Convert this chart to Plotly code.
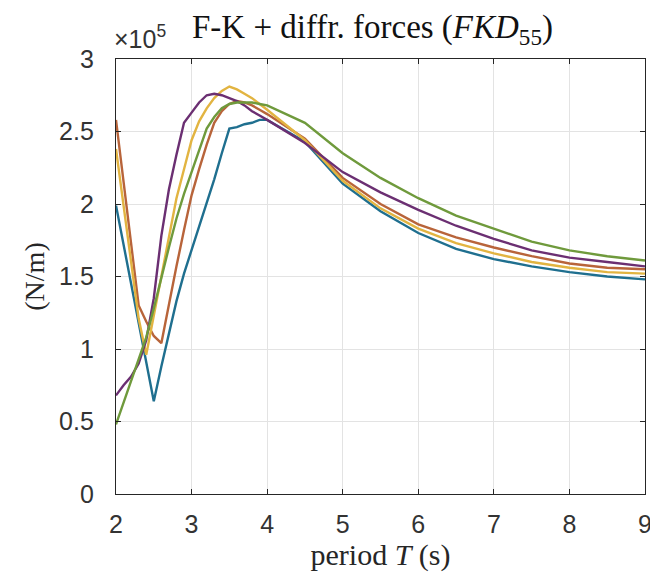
import plotly.graph_objects as go

# period T (s)
period = [2.0, 2.1, 2.2, 2.3, 2.4, 2.5, 2.6, 2.7, 2.8, 2.9, 3.0,
          3.1, 3.2, 3.3, 3.4, 3.5, 3.6, 3.7, 3.8, 3.9, 4.0,
          4.5, 5.0, 5.5, 6.0, 6.5, 7.0, 7.5, 8.0, 8.5, 9.0]

# FKD55 values (x 1e5 N/m)
s_blue = [1.99, 1.72, 1.45, 1.18, 0.92, 0.64, 0.88, 1.11, 1.33, 1.52, 1.68,
          1.84, 2.00, 2.17, 2.35, 2.52, 2.53, 2.55, 2.56, 2.58, 2.58,
          2.43, 2.14, 1.95, 1.80, 1.69, 1.62, 1.57, 1.53, 1.50, 1.48]
s_orange = [2.58, 2.14, 1.71, 1.30, 1.19, 1.09, 1.04, 1.31, 1.57, 1.82, 2.06,
            2.24, 2.41, 2.56, 2.64, 2.69, 2.71, 2.70, 2.68, 2.65, 2.62,
            2.45, 2.18, 2.00, 1.86, 1.77, 1.70, 1.64, 1.59, 1.56, 1.55]
s_yellow = [2.38, 1.99, 1.60, 1.21, 0.96, 1.23, 1.50, 1.78, 2.04, 2.24, 2.44,
            2.57, 2.66, 2.73, 2.78, 2.81, 2.79, 2.76, 2.73, 2.69, 2.65,
            2.44, 2.16, 1.97, 1.83, 1.73, 1.66, 1.60, 1.56, 1.53, 1.52]
s_purple = [0.68, 0.75, 0.81, 0.90, 1.06, 1.35, 1.78, 2.10, 2.34, 2.56, 2.63,
            2.70, 2.75, 2.76, 2.75, 2.73, 2.71, 2.68, 2.64, 2.61, 2.58,
            2.42, 2.22, 2.08, 1.96, 1.85, 1.76, 1.68, 1.63, 1.60, 1.57]
s_green = [0.48, 0.63, 0.78, 0.92, 1.08, 1.28, 1.50, 1.70, 1.90, 2.07, 2.22,
           2.37, 2.52, 2.60, 2.66, 2.69, 2.70, 2.70, 2.70, 2.69, 2.68,
           2.56, 2.35, 2.18, 2.04, 1.92, 1.83, 1.74, 1.68, 1.64, 1.61]

series = [s_blue, s_orange, s_yellow, s_purple, s_green]
colors = ["#1f6f8f", "#b8643a", "#e2b441", "#6b2f72", "#6f9a3c"]

x_ticks = [2, 3, 4, 5, 6, 7, 8, 9]
y_ticks = [0, 0.5, 1, 1.5, 2, 2.5, 3]
y_tick_text = ["0", "0.5", "1", "1.5", "2", "2.5", "3"]

SERIF = "Liberation Serif, Times New Roman, serif"
SANS = "Liberation Sans, Arial, sans-serif"

fig = go.Figure()
for ys, c in zip(series, colors):
    fig.add_trace(go.Scatter(x=period, y=ys, mode="lines",
                             line=dict(color=c, width=2.4), showlegend=False))

axis_common = dict(
    showline=True, linecolor="#262626", linewidth=1.3, mirror="ticks",
    ticks="inside", ticklen=5, tickcolor="#262626",
    showgrid=True, gridcolor="#e3e3e3", gridwidth=1, zeroline=False,
    tickfont=dict(family=SANS, size=25, color="#333333"),
)

fig.update_layout(
    width=658, height=575,
    margin=dict(l=108, r=21, t=51, b=89),
    paper_bgcolor="white", plot_bgcolor="white",
    xaxis=dict(range=[2, 9], tickvals=x_ticks, ticklabelstandoff=8, **axis_common,
               title=dict(text="period <i>T</i> (s)", standoff=4,
                          font=dict(family=SERIF, size=30, color="#262626"))),
    yaxis=dict(range=[0, 3], tickvals=y_ticks, ticktext=y_tick_text,
               ticklabelstandoff=16, **axis_common,
               title=dict(text="(N/m)", standoff=6,
                          font=dict(family=SERIF, size=28, color="#262626"))),
    annotations=[
        dict(text="F-K + diffr. forces (<i>FKD</i><sub>55</sub>)", xref="paper", yref="paper",
             x=0.5, y=1, yanchor="middle", xanchor="center", xshift=-8, yshift=30,
             showarrow=False,
             font=dict(family=SERIF, size=33, color="#111111")),
        dict(text="×10<sup>5</sup>", xref="paper", yref="paper",
             x=0, y=1, xanchor="left", yanchor="middle", xshift=-4, yshift=22, showarrow=False,
             font=dict(family=SANS, size=25, color="#333333")),
    ],
)

fig.write_html("out.html")
